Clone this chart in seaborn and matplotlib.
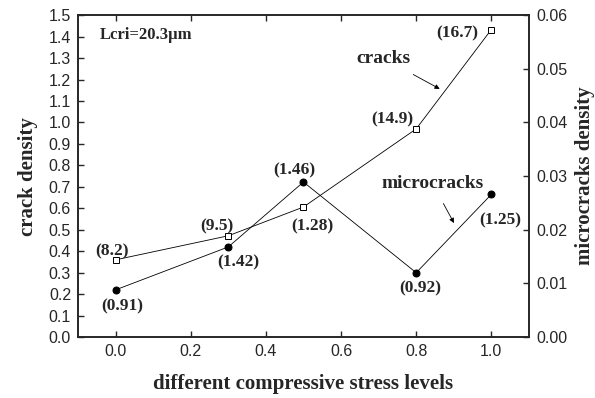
import numpy as np
import pandas as pd
import seaborn as sns
import matplotlib
matplotlib.use("Agg")
import matplotlib.pyplot as plt

# data
stress = [0.0, 0.3, 0.5, 0.8, 1.0]
crack_density = [0.36, 0.472, 0.606, 0.97, 1.433]
micro_density = [0.0088, 0.0168, 0.0289, 0.0120, 0.0266]
crack_labels = ["(8.2)", "(9.5)", "(1.28)", "(14.9)", "(16.7)"]
micro_labels = ["(0.91)", "(1.42)", "(1.46)", "(0.92)", "(1.25)"]

sns.set_style("ticks")
plt.rcParams["font.family"] = ["Liberation Sans", "DejaVu Sans"]
serif = ["Liberation Serif", "DejaVu Serif"]

df = pd.DataFrame({"stress": stress, "crack": crack_density, "micro": micro_density})

fig = plt.figure(figsize=(5.95, 3.98), dpi=100)
ax = fig.add_axes([0.131, 0.153, 0.758, 0.809])
ax2 = ax.twinx()

sns.lineplot(data=df, x="stress", y="crack", ax=ax, color="black", lw=0.6,
             marker="s", markersize=5, markerfacecolor="white",
             markeredgecolor="black", markeredgewidth=0.7)
sns.lineplot(data=df, x="stress", y="micro", ax=ax2, color="black", lw=0.6,
             marker="o", markersize=5, markerfacecolor="black",
             markeredgecolor="black")

ax.set_xlim(-0.1, 1.1)
ax.set_ylim(0, 1.5)
ax2.set_ylim(0, 0.06)
ax.set_xticks(np.arange(0, 1.01, 0.2))
ax.set_yticks(np.arange(0, 1.51, 0.1))
ax2.set_yticks(np.arange(0, 0.061, 0.01))
ax.set_xticklabels([f"{v:.1f}" for v in np.arange(0, 1.01, 0.2)])
ax.set_yticklabels([f"{v:.1f}" for v in np.arange(0, 1.51, 0.1)])
ax2.set_yticklabels([f"{v:.2f}" for v in np.arange(0, 0.061, 0.01)])

ax.tick_params(direction="in", length=4, width=1, labelsize=11.5, top=True, right=False, pad=5)
ax2.tick_params(direction="in", length=4, width=1, labelsize=11.5, pad=5)
for a in (ax, ax2):
    for s in a.spines.values():
        s.set_linewidth(1.2)
        s.set_visible(True)

ax.set_xlabel("different compressive stress levels", fontsize=15, fontweight="bold",
              family=serif, labelpad=11)
ax.set_ylabel("crack density", fontsize=15, fontweight="bold", family=serif, labelpad=8)
ax2.set_ylabel("microcracks density", fontsize=15, fontweight="bold", family=serif, labelpad=6)

# point labels (in left-axis data coords)
crack_pos = [(-0.01, 0.40), (0.27, 0.517), (0.525, 0.517), (0.736, 1.015), (0.909, 1.415)]
micro_pos = [(0.019, 0.144), (0.326, 0.35), (0.477, 0.775), (0.811, 0.228), (1.024, 0.545)]
for t, (x, y) in zip(crack_labels, crack_pos):
    ax.text(x, y, t, ha="center", va="center", fontsize=12.5, fontweight="bold", family=serif)
for t, (x, y) in zip(micro_labels, micro_pos):
    ax.text(x, y, t, ha="center", va="center", fontsize=12.5, fontweight="bold", family=serif)

ax.annotate("cracks", xy=(0.869, 1.15), xytext=(0.712, 1.30), ha="center", va="center",
            fontsize=14, fontweight="bold", family=serif,
            arrowprops=dict(arrowstyle="-|>", color="black", lw=0.6, shrinkA=7,
                            mutation_scale=7))
ax.annotate("microcracks", xy=(0.904, 0.52), xytext=(0.843, 0.717), ha="center", va="center",
            fontsize=14, fontweight="bold", family=serif,
            arrowprops=dict(arrowstyle="-|>", color="black", lw=0.6, shrinkA=7,
                            mutation_scale=7))

ax.text(0.049, 0.938, "Lcri=20.3\u00b5m", transform=ax.transAxes, ha="left", va="center",
        fontsize=12, fontweight="bold", family=serif)

fig.savefig("out.png", dpi=100)
